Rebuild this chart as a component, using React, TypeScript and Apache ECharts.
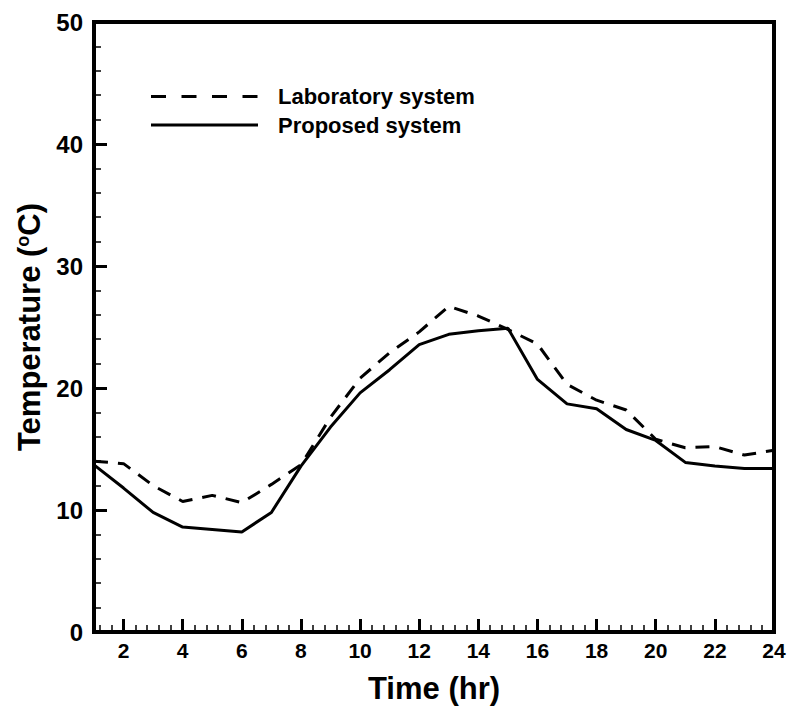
import React, { useEffect, useRef } from "react";
import * as echarts from "echarts";

const hours = [1, 2, 3, 4, 5, 6, 7, 8, 9, 10, 11, 12, 13, 14, 15, 16, 17, 18, 19, 20, 21, 22, 23, 24];
const laboratory = [14.0, 13.8, 12.0, 10.7, 11.2, 10.6, 12.1, 13.7, 17.6, 20.8, 22.9, 24.6, 26.7, 25.9, 24.8, 23.6, 20.3, 19.0, 18.2, 15.8, 15.1, 15.2, 14.5, 14.9];
const proposed = [13.7, 11.8, 9.8, 8.6, 8.4, 8.2, 9.8, 13.6, 16.8, 19.6, 21.5, 23.55, 24.4, 24.7, 24.9, 20.7, 18.7, 18.3, 16.6, 15.7, 13.9, 13.6, 13.4, 13.4];
const xMajorTicks = [2, 4, 6, 8, 10, 12, 14, 16, 18, 20, 22, 24];
const xMinorStep = 0.4;
const seriesNames = ["Laboratory system", "Proposed system"];

const FONT = "'Liberation Sans', Arial, Helvetica, sans-serif";

export default function App() {
  const ref = useRef<HTMLDivElement>(null);
  useEffect(() => {
    if (!ref.current) return;
    const chart = echarts.init(ref.current, null, { renderer: "svg" });
    const minorTicks: number[] = [];
    for (let i = 3; i * xMinorStep < 24 - 1e-6; i++) {
      const v = Math.round(i * xMinorStep * 10) / 10;
      if (Math.abs(v / 2 - Math.round(v / 2)) > 1e-6) minorTicks.push(v);
    }
    const labData = hours.map((h, i) => [h, laboratory[i]]);
    const propData = hours.map((h, i) => [h, proposed[i]]);
    chart.setOption({
      animation: false,
      backgroundColor: "#ffffff",
      grid: {
        left: 94,
        right: 16,
        top: 22,
        bottom: 72,
        show: true,
        borderColor: "#000",
        borderWidth: 4,
        containLabel: false,
      },
      xAxis: [
        {
          type: "value",
          min: 1,
          max: 24,
          name: "Time (hr)",
          nameLocation: "middle",
          nameGap: 41,
          nameTextStyle: { fontFamily: FONT, fontWeight: "bold", fontSize: 31, color: "#000" },
          axisLine: { show: true, onZero: false, lineStyle: { color: "#000", width: 4 } },
          axisTick: { show: true, inside: true, length: 13, customValues: xMajorTicks, lineStyle: { color: "#000", width: 3 } },
          axisLabel: { show: true, customValues: xMajorTicks, margin: 8, fontFamily: FONT, fontWeight: "bold", fontSize: 21, color: "#000" },
          splitLine: { show: false },
        },
        {
          type: "value",
          min: 1,
          max: 24,
          position: "bottom",
          axisLine: { show: false },
          axisTick: { show: true, inside: true, length: 7, customValues: minorTicks, lineStyle: { color: "#000", width: 1.5 } },
          axisLabel: { show: false },
          splitLine: { show: false },
        },
      ],
      yAxis: {
        type: "value",
        min: 0,
        max: 50,
        interval: 10,
        name: "Temperature ({sup|o}C)",
        nameLocation: "middle",
        nameGap: 49,
        nameTextStyle: {
          fontFamily: FONT,
          fontWeight: "bold",
          fontSize: 31,
          color: "#000",
          rich: {
            sup: { fontFamily: FONT, fontWeight: "bold", fontSize: 18, color: "#000", verticalAlign: "top", padding: [0, 0, 11, 0] },
          },
        },
        axisLine: { show: true, onZero: false, lineStyle: { color: "#000", width: 4 } },
        axisTick: { show: true, inside: true, length: 13, lineStyle: { color: "#000", width: 3 } },
        minorTick: { show: true, splitNumber: 5, length: 7, lineStyle: { color: "#000", width: 1.5 } },
        axisLabel: { margin: 11, fontFamily: FONT, fontWeight: "bold", fontSize: 24, color: "#000" },
        splitLine: { show: false },
        minorSplitLine: { show: false },
      },
      graphic: [
        { type: "line", shape: { x1: 151, y1: 96.5, x2: 258, y2: 96.5 }, style: { stroke: "#000", lineWidth: 3, lineDash: [15, 15.5] } },
        { type: "line", shape: { x1: 151, y1: 125, x2: 258, y2: 125 }, style: { stroke: "#000", lineWidth: 3 } },
        { type: "text", left: 278, top: 85, style: { text: seriesNames[0], fontFamily: FONT, fontWeight: "bold", fontSize: 22, fill: "#000" } },
        { type: "text", left: 278, top: 114, style: { text: seriesNames[1], fontFamily: FONT, fontWeight: "bold", fontSize: 22, fill: "#000" } },
      ],
      series: [
        {
          name: seriesNames[0],
          type: "line",
          data: labData,
          symbol: "none",
          lineStyle: { color: "#000", width: 3, type: [14, 10] },
        },
        {
          name: seriesNames[1],
          type: "line",
          data: propData,
          symbol: "none",
          lineStyle: { color: "#000", width: 3, type: "solid" },
        },
      ],
    });
    return () => chart.dispose();
  }, []);
  return <div ref={ref} style={{ width: 790, height: 709, position: "absolute", left: 0, top: 0 }} />;
}
